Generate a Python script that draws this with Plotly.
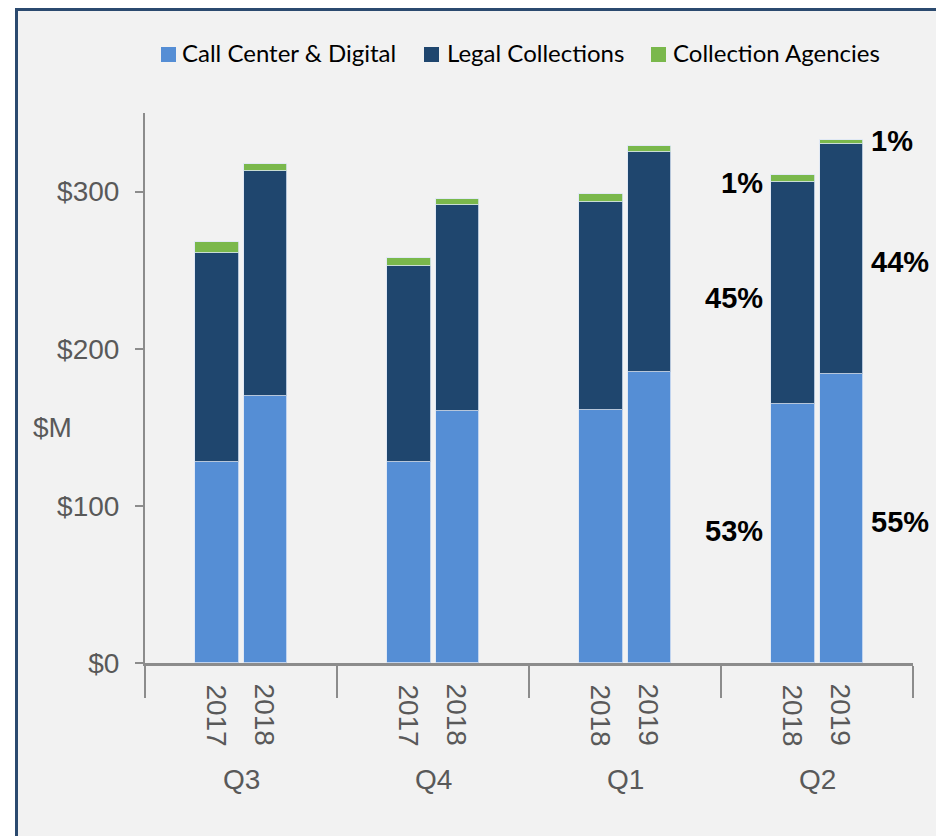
import plotly.graph_objects as go

# ---------------- data ----------------
quarters = ["Q3", "Q4", "Q1", "Q2"]
years = ["2017", "2018", "2017", "2018", "2018", "2019", "2018", "2019"]
call_center = [128, 170, 128, 160.5, 161, 185, 165, 184]
legal = [133, 143, 124.5, 131, 132.5, 140, 141, 146]
agencies = [7, 4.5, 5, 4, 5, 4, 4.4, 2.8]
series_names = ["Call Center & Digital", "Legal Collections", "Collection Agencies"]
pct_left = ["53%", "45%", "1%"]    # Q2 2018
pct_right = ["55%", "44%", "1%"]   # Q2 2019
ytick_vals = [0, 100, 200, 300]
ytick_text = ["$0", "$100", "$200", "$300"]

# ---------------- style ----------------
colors = ["#558ED5", "#1F466E", "#7AB84C"]
bar_w = 0.228
offsets = [-0.127, 0.127]
xpos = [g + 0.5 + offsets[k] for g in range(len(quarters)) for k in range(2)]

fig = go.Figure()
for name, vals, col in zip(series_names, [call_center, legal, agencies], colors):
    fig.add_trace(go.Bar(
        x=xpos, y=vals, name=name, width=bar_w, showlegend=False,
        marker=dict(color=col, line=dict(color="rgba(220,230,245,0.8)", width=1)),
        hoverinfo="y",
    ))

# page has an 8px body margin -> figure origin at page (8, 8)
OFF = 8
FW, FH = 944 - OFF, 836 - OFF
L, T, W, H = 145 - OFF, 113 - OFF, 768, 550

def px(xp):  # page pixel x -> paper
    return (xp - OFF - L) / W
def py(yp):  # page pixel y -> paper
    return (T + H - (yp - OFF)) / H

axfont = dict(family="Liberation Sans, Arial", size=28, color="#595959")
ann = []
# year labels (rotated)
for x, yr in zip(xpos, years):
    ann.append(dict(x=x, y=py(682), xref="x", yref="paper", text=yr, textangle=90,
                    showarrow=False, xanchor="center", yanchor="top", font=axfont))
# quarter labels
for g, q in enumerate(quarters):
    ann.append(dict(x=g + 0.5, y=py(779), xref="x", yref="paper", text=q,
                    showarrow=False, xanchor="center", yanchor="middle", font=axfont))
# $M axis label
ann.append(dict(x=px(52), y=py(427), xref="paper", yref="paper", text="$M",
                showarrow=False, xanchor="center", yanchor="middle", font=axfont))

# percentage labels for Q2 bars
def seg_mids(i):
    a, b, c = call_center[i], legal[i], agencies[i]
    return [a / 2, a + b / 2, a + b + c / 2]

pfont = dict(family="Liberation Sans, Arial", size=29, color="#000000")
for txt, ym, ys in zip(pct_left, seg_mids(6), [2, -5, -4]):
    ann.append(dict(x=xpos[6] - bar_w / 2, y=ym, xref="x", yref="y", text="<b>%s</b>" % txt,
                    showarrow=False, xanchor="right", yanchor="middle", xshift=-6, yshift=ys,
                    font=pfont))
for txt, ym, ys in zip(pct_right, seg_mids(7), [-4, -3, 1]):
    ann.append(dict(x=xpos[7] + bar_w / 2, y=ym, xref="x", yref="y", text="<b>%s</b>" % txt,
                    showarrow=False, xanchor="left", yanchor="middle", xshift=6, yshift=ys,
                    font=pfont))

shapes = [dict(type="rect", xref="paper", yref="paper", layer="below",
               x0=px(16.5), x1=px(942.5), y0=py(900), y1=py(9.5),
               fillcolor="#F2F2F2", line=dict(color="#2B4A6F", width=3))]

# custom legend (square + label), page-pixel layout
leg_sq_x = [161, 424, 651]
leg_tx_x = [180, 445, 671]
leg_font = dict(family="Lato", size=24, color="#000000")
for name, col, sx, tx in zip(series_names, colors, leg_sq_x, leg_tx_x):
    shapes.append(dict(type="rect", xref="paper", yref="paper",
                       x0=px(sx), x1=px(sx + 15), y0=py(62), y1=py(47),
                       fillcolor=col, line=dict(width=0)))
    ann.append(dict(x=px(tx), y=py(52), xref="paper", yref="paper", text=name,
                    showarrow=False, xanchor="left", yanchor="middle", font=leg_font))

fig.update_layout(
    width=FW, height=FH,
    margin=dict(l=L, r=FW - L - W, t=T, b=FH - T - H, pad=0),
    paper_bgcolor="#FFFFFF", plot_bgcolor="rgba(0,0,0,0)",
    barmode="stack", bargap=0,
    showlegend=False,
    xaxis=dict(range=[0, 4], tickvals=[0, 1, 2, 3, 4], ticktext=["", "", "", "", ""],
               ticks="outside", ticklen=32, tickwidth=2, tickcolor="#8C8C8C",
               showline=True, linecolor="#8C8C8C", linewidth=2.5,
               showgrid=False, zeroline=False, fixedrange=True),
    yaxis=dict(range=[0, 350], tickvals=ytick_vals, ticktext=ytick_text,
               ticks="outside", ticklen=8, tickwidth=2, tickcolor="#8C8C8C",
               showline=True, linecolor="#8C8C8C", linewidth=2,
               showgrid=False, zeroline=False, ticklabelstandoff=10,
               tickfont=axfont),
    annotations=ann, shapes=shapes,
)

fig.write_html("out.html")
